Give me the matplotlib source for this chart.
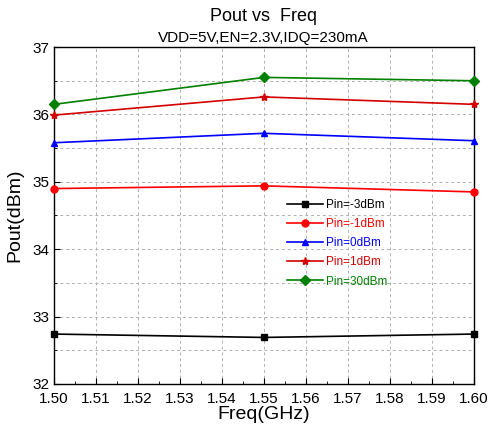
import matplotlib
matplotlib.use("Agg")
import matplotlib.pyplot as plt
from matplotlib.ticker import MultipleLocator

plt.rcParams["font.family"] = ["Liberation Sans", "DejaVu Sans"]

freq = [1.50, 1.55, 1.60]
pin_m3 = [32.74, 32.69, 32.74]
pin_m1 = [34.90, 34.94, 34.85]
pin_0 = [35.58, 35.72, 35.61]
pin_1 = [35.99, 36.26, 36.15]
pin_30 = [36.15, 36.55, 36.50]

series = [
    ("Pin=-3dBm", pin_m3, "black", "s"),
    ("Pin=-1dBm", pin_m1, "#ff0000", "o"),
    ("Pin=0dBm", pin_0, "#0000ff", "^"),
    ("Pin=1dBm", pin_1, "#d40000", "*"),
    ("Pin=30dBm", pin_30, "#008000", "D"),
]

fig = plt.figure(figsize=(4.91, 4.28), dpi=100)
ax = fig.add_axes([0.110, 0.103, 0.855, 0.787])

for label, vals, color, marker in series:
    ms = 6 if marker == "*" else 5
    ax.plot(freq, vals, color=color, marker=marker, markersize=ms, linewidth=1.2,
            label=label, clip_on=False, zorder=3)

ax.set_xlim(1.50, 1.60)
ax.set_ylim(32, 37)
ax.xaxis.set_major_locator(MultipleLocator(0.01))
ax.xaxis.set_minor_locator(MultipleLocator(0.005))
ax.yaxis.set_major_locator(MultipleLocator(1))
ax.yaxis.set_minor_locator(MultipleLocator(0.5))
ax.set_xticklabels([f"{v:.2f}" for v in ax.get_xticks()])
ax.grid(which="major", axis="x", color="#b0b0b0", linestyle=(0, (3, 3)), linewidth=0.7)
ax.grid(which="both", axis="y", color="#b0b0b0", linestyle=(0, (3, 3)), linewidth=0.7)
ax.tick_params(which="both", direction="in", labelsize=11, top=False, right=False)
ax.tick_params(which="major", length=4)
ax.tick_params(which="minor", length=2)
ax.tick_params(axis="x", pad=6)
for s in ax.spines.values():
    s.set_linewidth(1.0)

ax.set_xlabel("Freq(GHz)", fontsize=14, labelpad=0)
ax.set_ylabel("Pout(dBm)", fontsize=14, labelpad=6)
fig.text(0.537, 0.952, "Pout vs  Freq", ha="center", fontsize=13)
fig.text(0.537, 0.902, "VDD=5V,EN=2.3V,IDQ=230mA", ha="center", fontsize=11)

leg = ax.legend(loc="upper left", bbox_to_anchor=(0.53, 0.58), frameon=False,
                fontsize=8.5, handlelength=3, labelspacing=0.6, handletextpad=0.3)
for text, (_, _, color, _) in zip(leg.get_texts(), series):
    text.set_color(color)

fig.savefig("out.png", dpi=100)
